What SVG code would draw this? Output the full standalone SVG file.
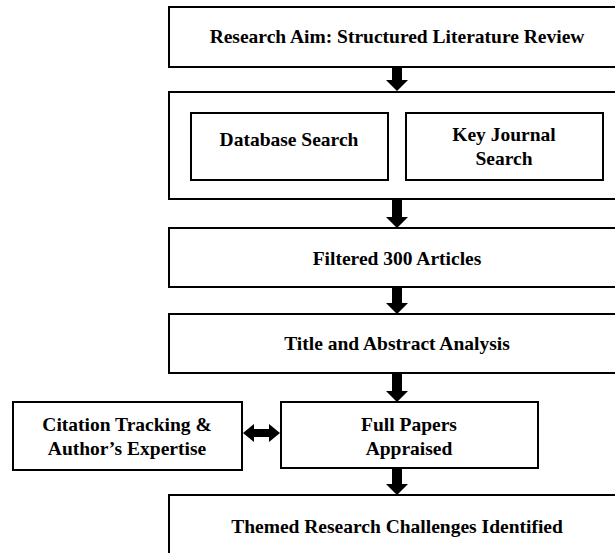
<svg xmlns="http://www.w3.org/2000/svg" width="615" height="553" viewBox="0 0 615 553">
<style>
.box{fill:#fff;stroke:#000;stroke-width:2}
.t{font-family:"Liberation Serif","Times New Roman",serif;font-weight:bold;font-size:19.5px;fill:#000;text-anchor:middle}
.arr{fill:#000;stroke:none}
</style>
<rect width="615" height="553" fill="#fff"/>
<g id="aim"><rect class="box" x="169" y="7" width="458" height="60"/><text class="t" x="397" y="43">Research Aim: Structured Literature Review</text></g>
<g id="search"><rect class="box" x="169" y="92" width="458" height="107"/></g>
<g id="database"><rect class="box" x="191" y="113" width="197" height="67"/><text class="t" x="289" y="146">Database Search</text></g>
<g id="journal"><rect class="box" x="406" y="113" width="197" height="67"/><text class="t" x="504" y="141">Key Journal</text><text class="t" x="504" y="165">Search</text></g>
<g id="filtered"><rect class="box" x="169" y="228" width="458" height="59"/><text class="t" x="397" y="265">Filtered 300 Articles</text></g>
<g id="title"><rect class="box" x="169" y="314" width="458" height="59"/><text class="t" x="397" y="350">Title and Abstract Analysis</text></g>
<g id="citation"><rect class="box" x="13" y="402" width="229" height="68"/><text class="t" x="127" y="431">Citation Tracking &amp;</text><text class="t" x="127" y="455">Author’s Expertise</text></g>
<g id="full"><rect class="box" x="281" y="402" width="257" height="66"/><text class="t" x="409" y="431">Full Papers</text><text class="t" x="409" y="455">Appraised</text></g>
<g id="themed"><rect class="box" x="169" y="495" width="458" height="70"/><text class="t" x="397" y="533">Themed Research Challenges Identified</text></g>
<g id="connectors">
<polygon class="arr" points="392,67 402,67 402,80 408,80 397,91 386,80 392,80"/>
<polygon class="arr" points="392,199 402,199 402,217 408,217 397,228 386,217 392,217"/>
<polygon class="arr" points="392,287 402,287 402,303 408,303 397,314 386,303 392,303"/>
<polygon class="arr" points="392,373 402,373 402,391 408,391 397,402 386,391 392,391"/>
<polygon class="arr" points="392,468 402,468 402,484 408,484 397,495 386,484 392,484"/>
<polygon class="arr" points="243,433 254,424 254,429 269,429 269,424 280,433 269,442 269,437 254,437 254,442"/>
</g>
</svg>
